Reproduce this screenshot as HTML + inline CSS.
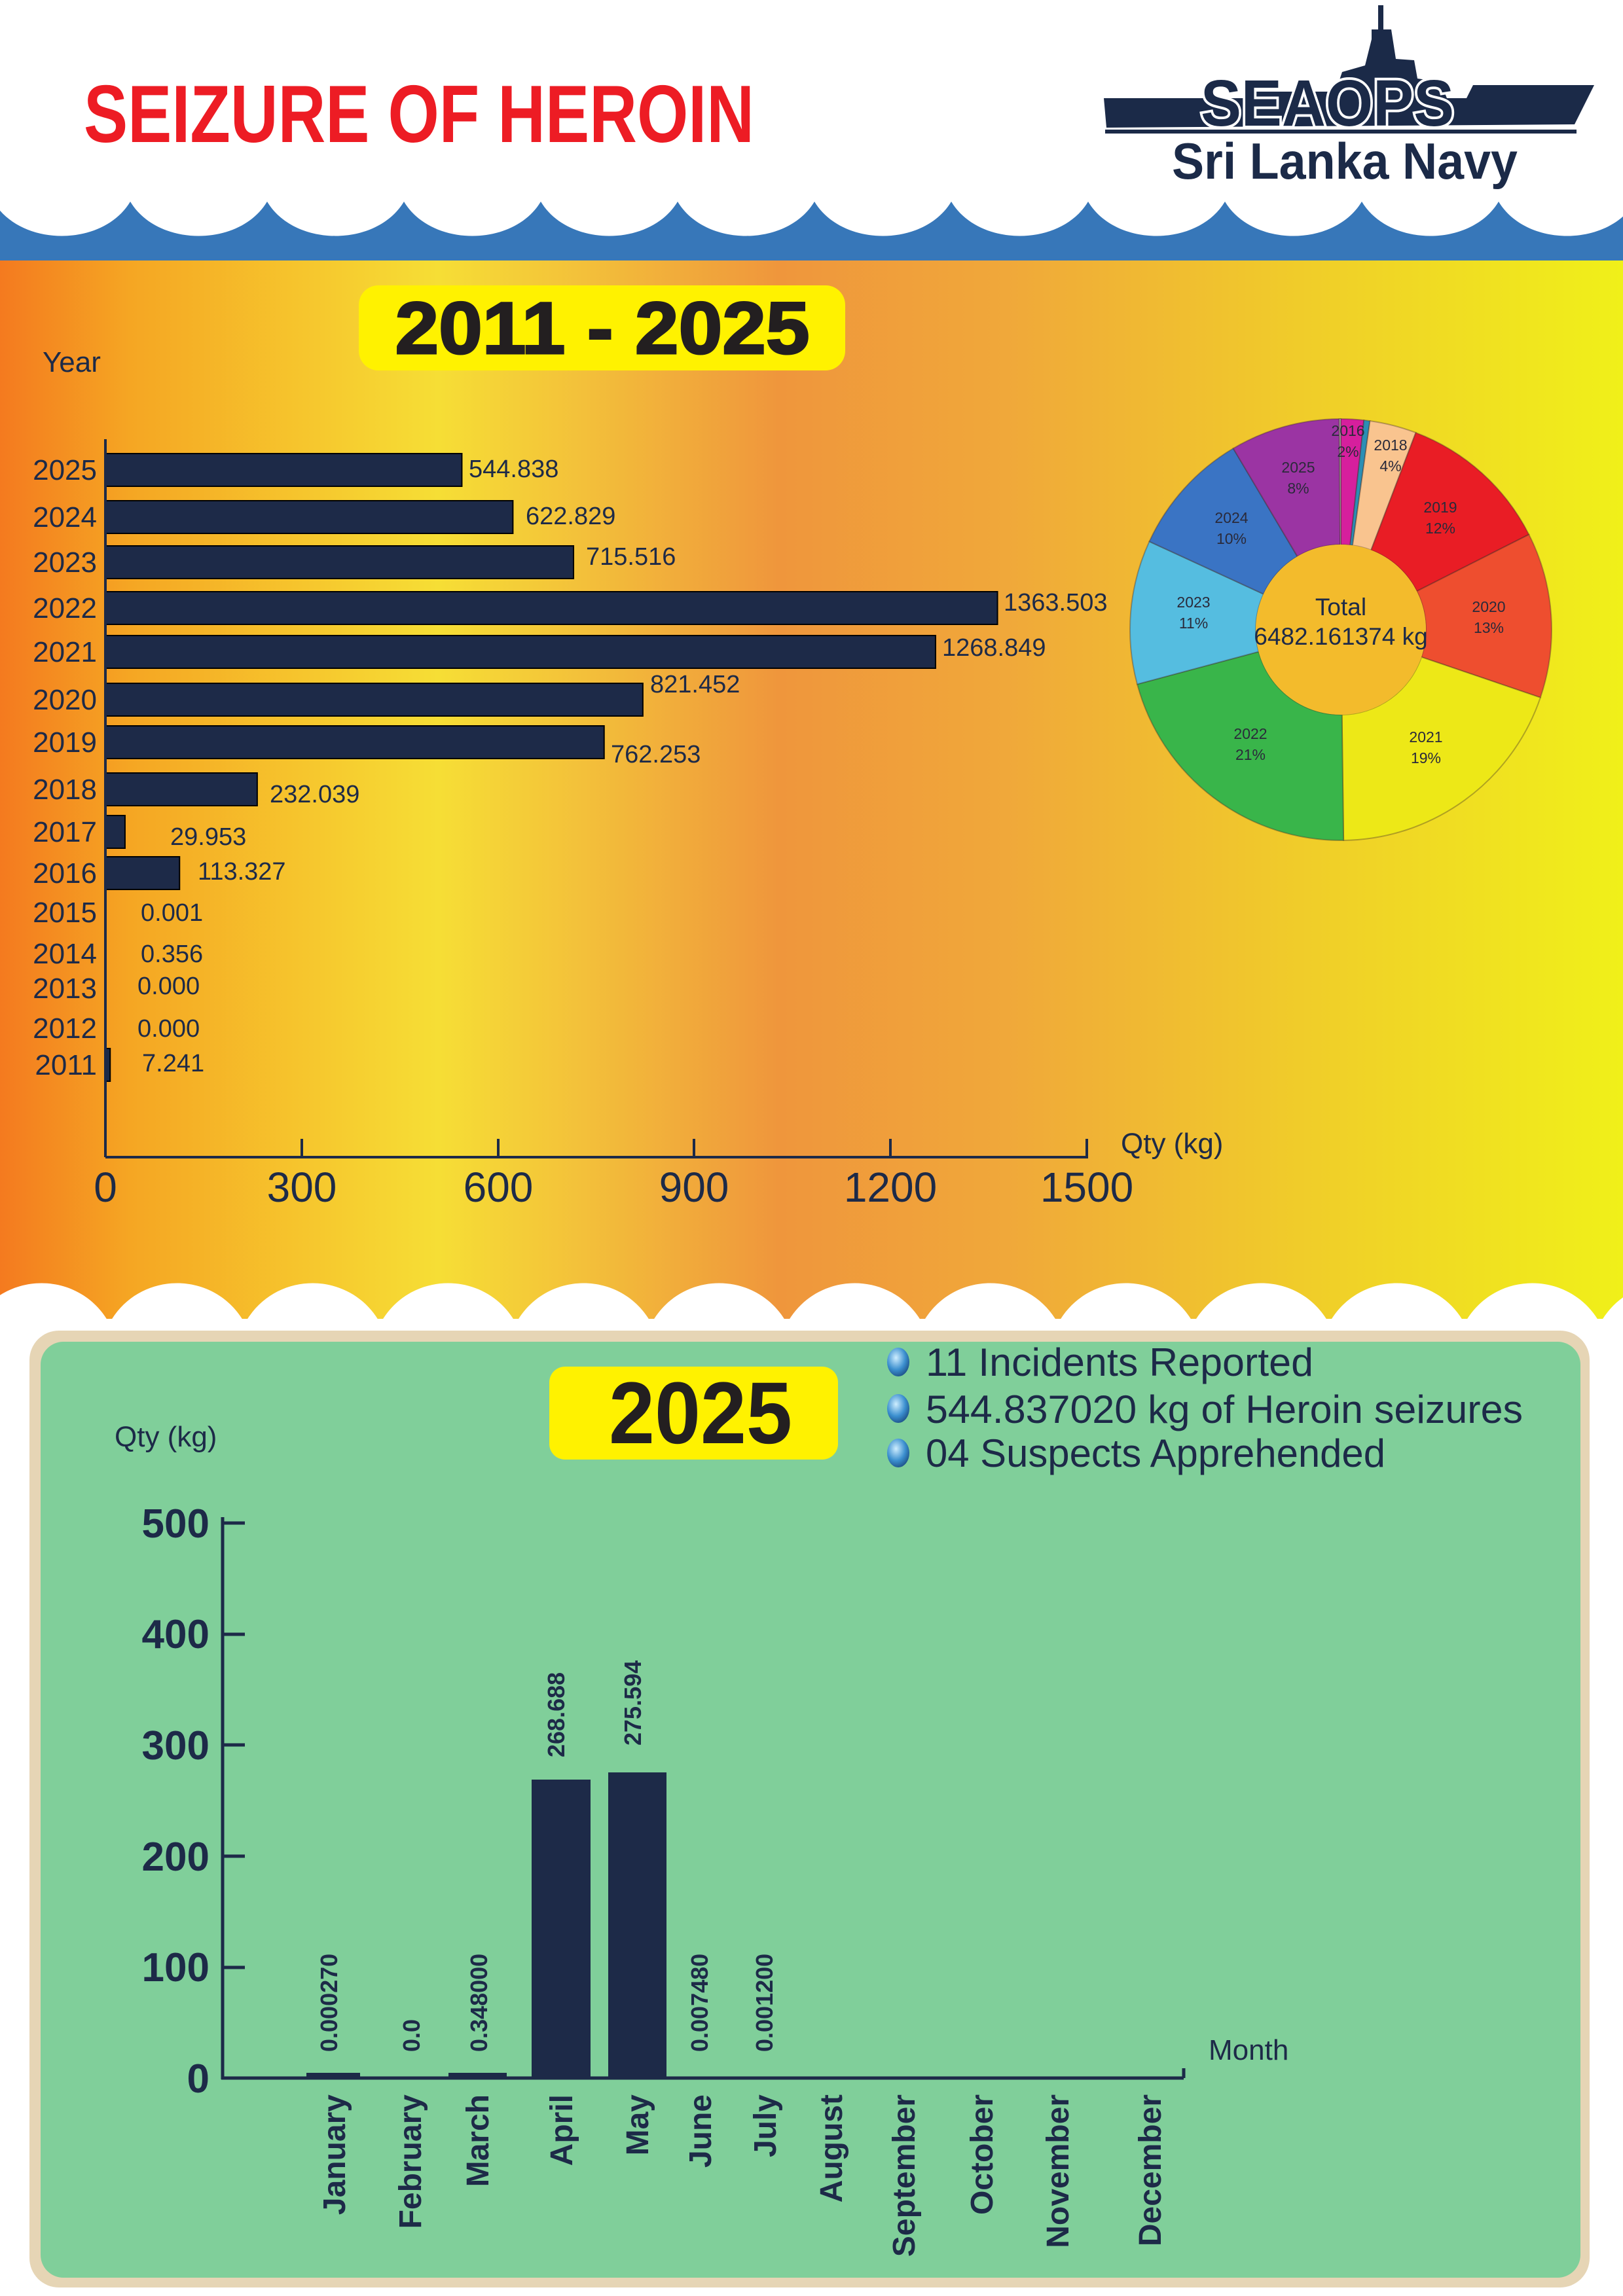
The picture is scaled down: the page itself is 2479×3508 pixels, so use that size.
<!DOCTYPE html>
<html><head><meta charset="utf-8"><style>
html,body{margin:0;padding:0;background:#fff}
svg{display:block}
text{font-family:"Liberation Sans",sans-serif}
</style></head><body>
<svg id="s" width="2479" height="3508" viewBox="0 0 2479 3508" xmlns="http://www.w3.org/2000/svg">
<defs>
<linearGradient id="g" x1="0" y1="0" x2="1" y2="0">
<stop offset="0" stop-color="#f47a1f"/><stop offset="0.08" stop-color="#f5a623"/>
<stop offset="0.27" stop-color="#f6de35"/><stop offset="0.36" stop-color="#f3c03a"/>
<stop offset="0.48" stop-color="#ef963c"/><stop offset="0.62" stop-color="#f0a83a"/>
<stop offset="0.8" stop-color="#f0cc2a"/><stop offset="1" stop-color="#f0f019"/>
</linearGradient>
<radialGradient id="bul" cx="0.4" cy="0.35" r="0.7"><stop offset="0" stop-color="#cfeeff"/><stop offset="0.6" stop-color="#3b8fcf"/><stop offset="1" stop-color="#1d4f86"/></radialGradient>
</defs>
<rect width="2479" height="3508" fill="#fff"/>
<text x="128" y="217" font-size="124" font-weight="bold" fill="#ed1c24" textLength="1024" lengthAdjust="spacingAndGlyphs">SEIZURE OF HEROIN</text>
<g fill="#1b2a48">
<rect x="2105" y="8" width="8" height="40"/>
<polygon points="2095,45 2125,45 2132,90 2160,92 2165,120 2200,125 2210,150 2240,150 2250,130 2435,130 2405,190 1690,195 1686,150 1900,150 1910,140 2040,140 2050,110 2085,100 2095,60"/>
<rect x="1688" y="198" width="720" height="6"/>
</g>
<text x="1834" y="192" font-size="100" font-weight="bold" fill="#1b2a48" stroke="#fff" stroke-width="8" paint-order="stroke" textLength="387" lengthAdjust="spacingAndGlyphs">SEAOPS</text>
<text x="1790" y="273" font-size="78" font-weight="bold" fill="#1b2a48" textLength="528" lengthAdjust="spacingAndGlyphs">Sri Lanka Navy</text>
<rect x="0" y="308" width="2479" height="92" fill="#3777b9"/>
<g id="bw" fill="#fff"></g>
<rect x="0" y="398" width="2479" height="1622" fill="url(#g)"/>
<g id="ww" fill="#fff"></g>
<rect x="0" y="2015" width="2479" height="20" fill="#fff"/>
<rect x="548" y="436" width="743" height="130" rx="30" fill="#fff200"/>
<text x="920" y="540" font-size="112" font-weight="bold" fill="#231f20" text-anchor="middle" textLength="633" lengthAdjust="spacingAndGlyphs" stroke="#231f20" stroke-width="3">2011 - 2025</text>
<text x="65" y="568" font-size="44" fill="#1d2a48">Year</text>
<g id="bars1"></g>
<line x1="161" y1="671" x2="161" y2="1768" stroke="#1d2a48" stroke-width="4"/>
<line x1="161" y1="1768" x2="1662" y2="1768" stroke="#1d2a48" stroke-width="4"/>
<g stroke="#1d2a48" stroke-width="4">
<line x1="461" y1="1768" x2="461" y2="1740"/><line x1="761" y1="1768" x2="761" y2="1740"/><line x1="1060" y1="1768" x2="1060" y2="1740"/><line x1="1360" y1="1768" x2="1360" y2="1740"/><line x1="1660" y1="1768" x2="1660" y2="1740"/>
</g>
<g font-size="64" fill="#1d2a48" text-anchor="middle">
<text x="161" y="1836">0</text><text x="461" y="1836">300</text><text x="761" y="1836">600</text><text x="1060" y="1836">900</text><text x="1360" y="1836">1200</text><text x="1660" y="1836">1500</text>
</g>
<text x="1712" y="1762" font-size="44" fill="#1d2a48">Qty (kg)</text>
<g id="pie"></g>
<circle cx="2048" cy="962" r="130" fill="#f3bb2c"/>
<text x="2048" y="940" font-size="37" fill="#1d2a48" text-anchor="middle">Total</text>
<text x="2048" y="985" font-size="37" fill="#1d2a48" text-anchor="middle">6482.161374 kg</text>
<g font-size="23" fill="#2a2a3a" text-anchor="middle" font-family="Liberation Serif">
<text x="2059" y="666">2016</text><text x="2059" y="698">2%</text>
<text x="2124" y="688">2018</text><text x="2124" y="720">4%</text>
<text x="1983" y="722">2025</text><text x="1983" y="754">8%</text>
<text x="2200" y="783">2019</text><text x="2200" y="815">12%</text>
<text x="1881" y="799">2024</text><text x="1881" y="831">10%</text>
<text x="1823" y="928">2023</text><text x="1823" y="960">11%</text>
<text x="2274" y="935">2020</text><text x="2274" y="967">13%</text>
<text x="1910" y="1129">2022</text><text x="1910" y="1161">21%</text>
<text x="2178" y="1134">2021</text><text x="2178" y="1166">19%</text>
</g>
<rect x="45" y="2033" width="2383" height="1462" rx="45" fill="#e6d5b5"/>
<rect x="62" y="2050" width="2352" height="1430" rx="35" fill="#80cf9a"/>
<rect x="839" y="2088" width="441" height="142" rx="24" fill="#fff200"/>
<text x="1070" y="2205" font-size="134" font-weight="bold" fill="#231f20" text-anchor="middle" textLength="280" lengthAdjust="spacingAndGlyphs">2025</text>
<g fill="#1d2a48" font-size="60">
<ellipse cx="1372" cy="2081" rx="17" ry="22" fill="url(#bul)"/><text x="1414" y="2102" textLength="592" lengthAdjust="spacingAndGlyphs">11 Incidents Reported</text>
<ellipse cx="1372" cy="2152" rx="17" ry="22" fill="url(#bul)"/><text x="1414" y="2174" textLength="912" lengthAdjust="spacingAndGlyphs">544.837020 kg of Heroin seizures</text>
<ellipse cx="1372" cy="2220" rx="17" ry="22" fill="url(#bul)"/><text x="1414" y="2241" textLength="702" lengthAdjust="spacingAndGlyphs">04 Suspects Apprehended</text>
</g>
<text x="175" y="2210" font-size="44" fill="#1d2a48">Qty (kg)</text>
<g font-size="62" font-weight="bold" fill="#1d2a48" text-anchor="end">
<text x="320" y="3197">0</text><text x="320" y="3027">100</text><text x="320" y="2858">200</text><text x="320" y="2688">300</text><text x="320" y="2518">400</text><text x="320" y="2349">500</text>
</g>
<g stroke="#1d2a48" stroke-width="5">
<line x1="340" y1="2318" x2="340" y2="3177"/><line x1="338" y1="3175" x2="1808" y2="3175"/>
<line x1="340" y1="2327" x2="374" y2="2327"/><line x1="340" y1="2497" x2="374" y2="2497"/><line x1="340" y1="2666" x2="374" y2="2666"/><line x1="340" y1="2836" x2="374" y2="2836"/><line x1="340" y1="3006" x2="374" y2="3006"/>
<line x1="1808" y1="3160" x2="1808" y2="3175"/>
</g>
<g fill="#1d2a48">
<rect x="468" y="3167" width="82" height="8"/>
<rect x="685" y="3167" width="89" height="8"/>
<rect x="812" y="2719" width="90" height="456"/>
<rect x="929" y="2708" width="89" height="467"/>
</g>
<g font-size="36" font-weight="bold" fill="#1d2a48">
<text transform="translate(515,3135) rotate(-90)">0.000270</text>
<text transform="translate(641,3135) rotate(-90)">0.0</text>
<text transform="translate(744,3135) rotate(-90)">0.348000</text>
<text transform="translate(862,2685) rotate(-90)">268.688</text>
<text transform="translate(979,2667) rotate(-90)">275.594</text>
<text transform="translate(1081,3135) rotate(-90)">0.007480</text>
<text transform="translate(1180,3135) rotate(-90)">0.001200</text>
</g>
<g font-size="48" font-weight="bold" fill="#1d2a48" text-anchor="end">
<text transform="translate(527,3200) rotate(-90)">January</text>
<text transform="translate(643,3200) rotate(-90)">February</text>
<text transform="translate(746,3200) rotate(-90)">March</text>
<text transform="translate(874,3200) rotate(-90)">April</text>
<text transform="translate(990,3200) rotate(-90)">May</text>
<text transform="translate(1086,3200) rotate(-90)">June</text>
<text transform="translate(1185,3200) rotate(-90)">July</text>
<text transform="translate(1286,3200) rotate(-90)">August</text>
<text transform="translate(1397,3200) rotate(-90)">September</text>
<text transform="translate(1516,3200) rotate(-90)">October</text>
<text transform="translate(1632,3200) rotate(-90)">November</text>
<text transform="translate(1773,3200) rotate(-90)">December</text>
</g>
<text x="1846" y="3147" font-size="44" fill="#1d2a48">Month</text>
</svg>
<script>
var NS="http://www.w3.org/2000/svg";
function el(p,t,a){var e=document.createElementNS(NS,t);for(var k in a)e.setAttribute(k,a[k]);p.appendChild(e);return e;}
var bw=document.getElementById('bw'),p=209,d="";
for(var x=-10;x<2500;x+=p){d+="M"+x+",300 L"+x+",308 C"+(x+p*0.2)+",378 "+(x+p*0.8)+",378 "+(x+p)+",308 L"+(x+p)+",300 Z ";}
el(bw,'path',{d:d});
var ww=document.getElementById('ww');d="";
for(var x=-40;x<2520;x+=207){d+="M"+x+",2022 C"+(x+45)+",1940 "+(x+162)+",1940 "+(x+207)+",2022 Z ";}
el(ww,'path',{d:d});
var b=document.getElementById('bars1');
var data=[["2025",544.838,718,716,716],["2024",622.829,790,803,788],["2023",715.516,859,895,850],["2022",1363.503,929,1533,920],["2021",1268.849,996,1439,989],["2020",821.452,1069,993,1045],["2019",762.253,1134,933,1152],["2018",232.039,1206,412,1213],["2017",29.953,1271,260,1278],["2016",113.327,1334,302,1331],["2015",0.001,1394,215,1394],["2014",0.356,1457,215,1457],["2013",0.000,1510,210,1506],["2012",0.000,1571,210,1571],["2011",7.241,1627,217,1624]];
data.forEach(function(r){
 var w=r[1]*0.9993; if(w>1) el(b,'rect',{x:161,y:r[2]-25,width:w,height:50,fill:'#1d2a48',stroke:'#000','stroke-width':2});
 var t=el(b,'text',{x:148,y:r[2]+15,'font-size':44,fill:'#1d2a48','text-anchor':'end'});t.textContent=r[0];
 var v=el(b,'text',{x:r[3],y:r[4]+13,'font-size':38,fill:'#1d2a48'});v.textContent=r[1].toFixed(3);
});
var pie=document.getElementById('pie');
var vals=[[113.327,'#d61f9d'],[29.953,'#2b8fb5'],[232.039,'#f9c48f'],[762.253,'#e91d25'],[821.452,'#ee4e2f'],[1268.849,'#ede817'],[1363.503,'#39b54a'],[715.516,'#55bde0'],[622.829,'#3a74c4'],[544.838,'#9b34a3'],[7.597,'#c0c0c0']];
var tot=6482.161374,a=0,cx=2048,cy=962,R=322,r=130;
vals.forEach(function(v){
 var a2=a+v[0]/tot*2*Math.PI;
 function pt(rr,ang){return [cx+rr*Math.sin(ang),cy-rr*Math.cos(ang)];}
 var p1=pt(R,a),p2=pt(R,a2),p3=pt(r,a2),p4=pt(r,a),lg=(a2-a)>Math.PI?1:0;
 el(pie,'path',{d:"M"+p1+" A"+R+","+R+" 0 "+lg+" 1 "+p2+" L"+p3+" A"+r+","+r+" 0 "+lg+" 0 "+p4+" Z",fill:v[1],stroke:'rgba(60,40,40,0.35)','stroke-width':2});
 a=a2;
});
</script>
</body></html>
